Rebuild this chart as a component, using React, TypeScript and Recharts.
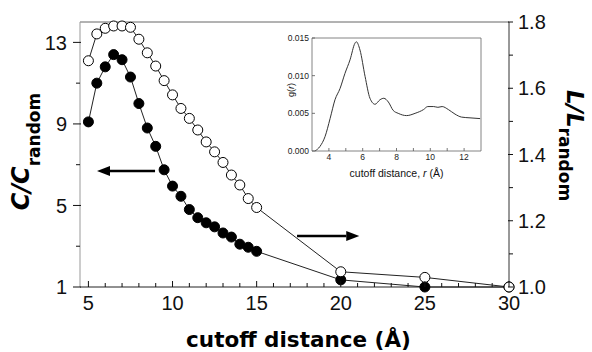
import React from 'react';
import { ComposedChart, LineChart, Line, XAxis, YAxis, ReferenceLine } from 'recharts';

// ---------- main data ----------
const cutoff = [5, 5.5, 6, 6.5, 7, 7.5, 8, 8.5, 9, 9.5, 10, 10.5, 11, 11.5, 12, 12.5, 13, 13.5, 14, 14.5, 15, 20, 25, 30];
const cRatio = [9.1, 11.0, 11.8, 12.4, 12.15, 11.3, 10.0, 8.8, 7.9, 6.75, 5.95, 5.45, 4.8, 4.4, 4.15, 3.95, 3.65, 3.45, 3.1, 2.95, 2.75, 1.35, 1.0, 1.0];
const lRatio = [1.683, 1.764, 1.781, 1.788, 1.788, 1.784, 1.748, 1.707, 1.667, 1.623, 1.58, 1.539, 1.509, 1.474, 1.438, 1.408, 1.376, 1.338, 1.308, 1.267, 1.24, 1.046, 1.029, 1.0];

const xTickValues = [5, 6, 7, 8, 9, 10, 11, 12, 13, 14, 15, 16, 17, 18, 19, 20, 21, 22, 23, 24, 25, 26, 27, 28, 29, 30];
const xTickLabels = [5, 10, 15, 20, 25, 30];
const cTickValues = [1, 3, 5, 7, 9, 11, 13];
const cTickLabels = [1, 5, 9, 13];
const lTickValues = [1.0, 1.1, 1.2, 1.3, 1.4, 1.5, 1.6, 1.7, 1.8];
const lTickLabels = [1.0, 1.2, 1.4, 1.6, 1.8];

// arrows (annotation, in data units)
const leftArrowX = [8.96, 5.51];
const leftArrowY = 6.69;
const rightArrowX = [17.4, 21.1];
const rightArrowY = 1.154;

// ---------- inset data ----------
const gR = [3.18, 3.47, 3.77, 4.07, 4.36, 4.66, 4.95, 5.25, 5.54, 5.62, 5.84, 6.14, 6.43, 6.73, 7.02, 7.25, 7.52, 7.8, 8.1, 8.6, 9.1, 9.6, 9.85, 10.2, 10.45, 10.7, 11.07, 11.46, 11.85, 12.35, 12.95];
const gValues = [0, 0.0006, 0.0019, 0.0043, 0.0068, 0.0083, 0.0103, 0.0121, 0.0143, 0.0145, 0.0134, 0.0099, 0.007, 0.0062, 0.0068, 0.007, 0.0065, 0.0054, 0.005, 0.0047, 0.005, 0.0055, 0.0059, 0.0059, 0.0058, 0.0059, 0.0055, 0.0049, 0.0045, 0.0044, 0.0043];
const insetXTicks = [4, 5, 6, 7, 8, 9, 10, 11, 12];
const insetXLabels = [4, 6, 8, 10, 12];
const insetYTicks = [0, 0.005, 0.01, 0.015];

const mainData = cutoff.map((x, i) => ({ x, c: cRatio[i], l: lRatio[i] }));
const gData = gR.map((r, i) => ({ r, g: gValues[i] }));

const isIn = (arr: number[], v: number) => arr.some((a) => Math.abs(a - v) < 1e-9);

const TICK_FONT = 'Liberation Sans, Arial, sans-serif';
const TITLE_FONT = 'DejaVu Sans, Verdana, sans-serif';
const M = 9; // main tick margin
const IM = 3; // inset tick margin

const BottomTick = (props: any) => {
  const { x, y, payload } = props;
  const axisY = y - M;
  const major = isIn(xTickLabels, payload.value);
  return (
    <g>
      <line x1={x} x2={x} y1={axisY} y2={axisY - (major ? 6 : 4)} stroke="#111" strokeWidth={1} />
      {major && (
        <text x={x} y={y} dy="0.71em" textAnchor="middle" fontFamily={TICK_FONT} fontSize={20} fill="#111">
          {payload.value}
        </text>
      )}
    </g>
  );
};

const LeftTick = (props: any) => {
  const { x, y, payload } = props;
  const axisX = x + M - 4;
  const major = isIn(cTickLabels, payload.value);
  return (
    <g>
      <line x1={major ? axisX - 3 : axisX} x2={axisX + (major ? 5 : 4)} y1={y} y2={y} stroke="#111" strokeWidth={1} />
      {major && (
        <text x={x - 4} y={y} dy="0.36em" textAnchor="end" fontFamily={TICK_FONT} fontSize={20} fill="#111">
          {payload.value}
        </text>
      )}
    </g>
  );
};

const RightTick = (props: any) => {
  const { x, y, payload } = props;
  const axisX = x - M + 4;
  const major = isIn(lTickLabels, payload.value);
  return (
    <g>
      <line x1={axisX} x2={axisX - (major ? 5 : 4)} y1={y} y2={y} stroke="#111" strokeWidth={1} />
      {major && (
        <text x={x} y={y} dy="0.36em" textAnchor="start" fontFamily={TICK_FONT} fontSize={20} fill="#111">
          {Number(payload.value).toFixed(1)}
        </text>
      )}
    </g>
  );
};

const InsetBottomTick = (props: any) => {
  const { x, y, payload } = props;
  const axisY = y - IM;
  const major = isIn(insetXLabels, payload.value);
  return (
    <g>
      <line x1={x} x2={x} y1={axisY} y2={axisY - 3} stroke="#555" strokeWidth={0.8} />
      {major && (
        <text x={x} y={y} dy="0.71em" textAnchor="middle" fontFamily={TICK_FONT} fontSize={8.5} fill="#222">
          {payload.value}
        </text>
      )}
    </g>
  );
};

const InsetLeftTick = (props: any) => {
  const { x, y, payload } = props;
  const axisX = x + IM;
  return (
    <g>
      <line x1={axisX} x2={axisX + 3} y1={y} y2={y} stroke="#555" strokeWidth={0.8} />
      <text x={x} y={y} dy="0.36em" textAnchor="end" fontFamily={TICK_FONT} fontSize={8.5} fill="#222">
        {Number(payload.value).toFixed(3)}
      </text>
    </g>
  );
};

const Arrow = (props: any) => {
  const { x1, y1, x2, y2 } = props;
  const dx = x2 - x1;
  const dy = y2 - y1;
  const len = Math.sqrt(dx * dx + dy * dy) || 1;
  const ux = dx / len;
  const uy = dy / len;
  const hl = 13;
  const hw = 5;
  const bx = x2 - ux * hl;
  const by = y2 - uy * hl;
  const px = -uy;
  const py = ux;
  return (
    <g>
      <line x1={x1} y1={y1} x2={bx} y2={by} stroke="#000" strokeWidth={2.5} />
      <polygon points={`${x2},${y2} ${bx + px * hw},${by + py * hw} ${bx - px * hw},${by - py * hw}`} fill="#000" />
    </g>
  );
};

const LeftTitle = (props: any) => {
  const vb = props.viewBox;
  const cx = vb.x + 29;
  const cy = vb.y + vb.height / 2 - 3;
  return (
    <text x={cx} y={cy} transform={`rotate(-90, ${cx}, ${cy})`} textAnchor="middle" fontFamily={TITLE_FONT} fontWeight="bold" fill="#000">
      <tspan fontSize={24} fontStyle="italic">C/C</tspan>
      <tspan fontSize={17} dy={11}>random</tspan>
    </text>
  );
};

const RightTitle = (props: any) => {
  const vb = props.viewBox;
  const cx = vb.x + 58;
  const cy = vb.y + vb.height / 2 - 9;
  return (
    <text x={cx} y={cy} transform={`rotate(90, ${cx}, ${cy})`} textAnchor="middle" fontFamily={TITLE_FONT} fontWeight="bold" fill="#000">
      <tspan fontSize={23} fontStyle="italic">L/L</tspan>
      <tspan fontSize={17} dy={8}>random</tspan>
    </text>
  );
};

const BottomTitle = (props: any) => {
  const vb = props.viewBox;
  return (
    <text x={vb.x + vb.width / 2 + 4} y={vb.y + 60} textAnchor="middle" fontFamily={TITLE_FONT} fontWeight="bold" fontSize={21.5} fill="#000">
      cutoff distance (Å)
    </text>
  );
};

const InsetXTitle = (props: any) => {
  const vb = props.viewBox;
  return (
    <text x={vb.x + vb.width / 2} y={vb.y + 26} textAnchor="middle" fontFamily={TICK_FONT} fontSize={10.5} fill="#111">
      cutoff distance, <tspan fontStyle="italic">r</tspan> (Å)
    </text>
  );
};

const InsetYTitle = (props: any) => {
  const vb = props.viewBox;
  const cx = vb.x + 22;
  const cy = vb.y + 52;
  return (
    <text x={cx} y={cy} transform={`rotate(-90, ${cx}, ${cy})`} textAnchor="middle" fontFamily={TICK_FONT} fontSize={9} fill="#111">
      g(<tspan fontStyle="italic">r</tspan>)
    </text>
  );
};

export default function App() {
  return (
    <div style={{ position: 'absolute', left: 0, top: 0, width: 592, height: 352, background: '#fff' }}>
      <div style={{ position: 'absolute', left: 0, top: 0 }}>
        <ComposedChart width={592} height={352} data={mainData} margin={{ top: 22, right: 0, bottom: 0, left: 0 }}>
          <XAxis
            xAxisId="b"
            type="number"
            dataKey="x"
            domain={[4.5, 30]}
            ticks={xTickValues}
            interval={0}
            height={65}
            tickSize={0}
            tickMargin={M}
            tick={BottomTick}
            tickLine={false}
            axisLine={{ stroke: '#222', strokeWidth: 1 }}
            label={{ content: BottomTitle }}
          />
          <XAxis
            xAxisId="t"
            orientation="top"
            type="number"
            dataKey="x"
            domain={[4.5, 30]}
            ticks={xTickValues}
            interval={0}
            mirror
            tickSize={4}
            tick={false}
            tickLine={{ stroke: '#111' }}
            axisLine={{ stroke: '#666', strokeWidth: 1 }}
          />
          <YAxis
            yAxisId="c"
            type="number"
            domain={[1, 14]}
            ticks={cTickValues}
            interval={0}
            width={80}
            tickSize={0}
            tickMargin={M}
            tick={LeftTick}
            tickLine={false}
            axisLine={{ stroke: '#999', strokeWidth: 1 }}
            label={{ content: LeftTitle }}
          />
          <YAxis
            yAxisId="l"
            orientation="right"
            type="number"
            domain={[1, 1.8]}
            ticks={lTickValues}
            interval={0}
            width={83}
            tickSize={0}
            tickMargin={M}
            tick={RightTick}
            tickLine={false}
            axisLine={{ stroke: '#333', strokeWidth: 1 }}
            label={{ content: RightTitle }}
          />
          <ReferenceLine
            xAxisId="b"
            yAxisId="c"
            segment={[{ x: leftArrowX[0], y: leftArrowY }, { x: leftArrowX[1], y: leftArrowY }]}
            shape={Arrow}
          />
          <ReferenceLine
            xAxisId="b"
            yAxisId="l"
            segment={[{ x: rightArrowX[0], y: rightArrowY }, { x: rightArrowX[1], y: rightArrowY }]}
            shape={Arrow}
          />
          <Line
            xAxisId="b"
            yAxisId="c"
            dataKey="c"
            type="linear"
            stroke="#222"
            strokeWidth={1}
            dot={{ r: 5, fill: '#000', stroke: '#000', strokeWidth: 1 }}
            activeDot={false}
            isAnimationActive={false}
          />
          <Line
            xAxisId="b"
            yAxisId="l"
            dataKey="l"
            type="linear"
            stroke="#222"
            strokeWidth={1}
            dot={{ r: 5, fill: '#fff', stroke: '#000', strokeWidth: 1 }}
            activeDot={false}
            isAnimationActive={false}
          />
        </ComposedChart>
      </div>
      <div style={{ position: 'absolute', left: 0, top: 0 }}>
        <LineChart width={592} height={352} data={gData} margin={{ top: 38, right: 111, bottom: 171, left: 272 }}>
          <XAxis
            xAxisId="ib"
            type="number"
            dataKey="r"
            domain={[3, 13]}
            ticks={insetXTicks}
            interval={0}
            height={30}
            tickSize={0}
            tickMargin={IM}
            tick={InsetBottomTick}
            tickLine={false}
            axisLine={{ stroke: '#666', strokeWidth: 0.8 }}
            label={{ content: InsetXTitle }}
          />
          <XAxis
            xAxisId="it"
            orientation="top"
            type="number"
            dataKey="r"
            domain={[3, 13]}
            ticks={insetXTicks}
            interval={0}
            mirror
            tickSize={3}
            tick={false}
            tickLine={{ stroke: '#555', strokeWidth: 0.8 }}
            axisLine={{ stroke: '#666', strokeWidth: 0.8 }}
          />
          <YAxis
            yAxisId="il"
            type="number"
            domain={[0, 0.015]}
            ticks={insetYTicks}
            interval={0}
            width={40}
            tickSize={0}
            tickMargin={IM}
            tick={InsetLeftTick}
            tickLine={false}
            axisLine={{ stroke: '#666', strokeWidth: 0.8 }}
            label={{ content: InsetYTitle }}
          />
          <YAxis
            yAxisId="ir"
            orientation="right"
            type="number"
            domain={[0, 0.015]}
            ticks={insetYTicks}
            interval={0}
            mirror
            tickSize={3}
            tick={false}
            tickLine={{ stroke: '#555', strokeWidth: 0.8 }}
            axisLine={{ stroke: '#666', strokeWidth: 0.8 }}
          />
          <Line
            xAxisId="ib"
            yAxisId="il"
            dataKey="g"
            type="monotone"
            stroke="#333"
            strokeWidth={1}
            dot={false}
            activeDot={false}
            isAnimationActive={false}
          />
        </LineChart>
      </div>
    </div>
  );
}
